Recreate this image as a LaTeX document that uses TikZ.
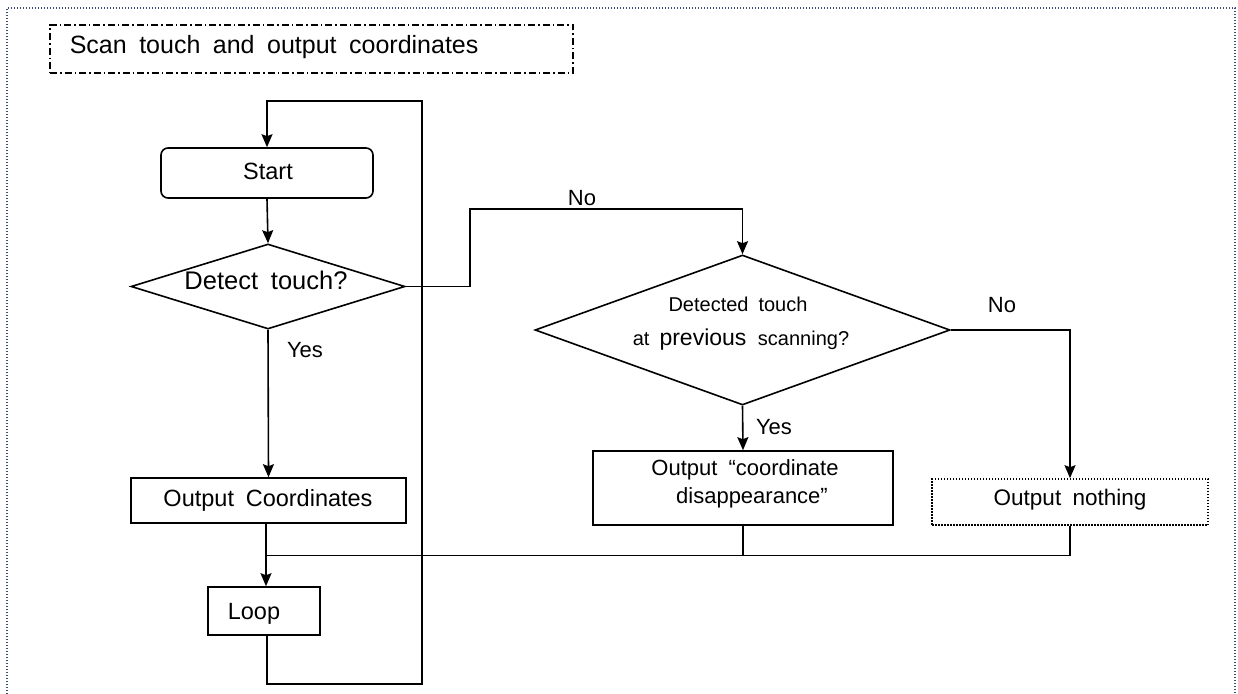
\documentclass[tikz,border=0pt]{standalone}
\usepackage{fontspec}
\setmainfont[WordSpace=1.8]{Liberation Sans}
\usetikzlibrary{arrows.meta,shapes.geometric}
\definecolor{framecol}{HTML}{3E4E78}
\begin{document}
\begin{tikzpicture}[x=1pt,y=-1pt,
  line width=1.6pt,
  arr/.style={-{Stealth[length=13pt,width=11pt,inset=2pt]}},
  box/.style={draw,rectangle,inner sep=0pt,anchor=center},
  dia/.style={draw,diamond,inner sep=0pt,anchor=center},
  txt/.style={inner sep=0pt,anchor=center},
  fs/.style={font=\fontsize{#1}{#1}\selectfont}
]
\useasboundingbox (0,0) rectangle (1238,693);
% outer dotted frame
\draw[framecol,line width=1.2pt,dash pattern=on 1.4pt off 1.6pt] (7,700) -- (7,8) -- (1235,8) -- (1235,700);
% title
\node[box,line width=1.4pt,dash pattern=on 7pt off 3pt on 1.5pt off 3pt,minimum width=523pt,minimum height=48pt] (title) at (311.5,49) {};
\node[txt,anchor=west,fs=25] (titletxt) at (69,47) {Scan touch and output coordinates};
% nodes
\node[box,rounded corners=7pt,minimum width=212pt,minimum height=50pt] (start) at (267,173) {};
\node[txt,fs=23.5] (starttxt) at (268,171) {Start};
\node[dia,minimum width=274pt,minimum height=85pt] (d1) at (268,286.5) {};
\node[txt,fs=25.5] (d1txt) at (266,280) {Detect touch?};
\node[box,minimum width=275pt,minimum height=45pt] (oc) at (268.5,500.5) {};
\node[txt,fs=23.5] (octxt) at (268,500) {Output Coordinates};
\node[box,minimum width=112pt,minimum height=48pt] (lp) at (264,611) {};
\node[txt,fs=23.5] (lptxt) at (254,614) {Loop};
\node[dia,minimum width=415pt,minimum height=150pt] (d2) at (742.5,330) {};
\node[txt,fs=20] (d2a) at (738,304) {Detected touch};
\node[txt,fs=20] (d2b) at (741,340) {at \fontsize{23}{23}\selectfont previous \fontsize{20}{20}\selectfont scanning?};
\node[box,minimum width=300pt,minimum height=74pt] (b2) at (743,488) {};
\node[txt,align=center,font=\fontsize{22}{28}\selectfont] (b2txt) at (745,484) {Output “coordinate\\\hspace*{14pt}disappearance”};
\node[box,dash pattern=on 1.5pt off 1.5pt,line width=1.6pt,minimum width=276pt,minimum height=46pt] (no) at (1070,502) {};
\node[txt,fs=22.5] (notxt) at (1070,500) {Output nothing};
% labels
\node[txt,fs=22] (no1) at (582,198) {No};
\node[txt,fs=22] (no2) at (1002,305) {No};
\node[txt,fs=22] (yes1) at (305,350) {Yes};
\node[txt,fs=22] (yes2) at (774,427) {Yes};
% coordinates
\coordinate (j1) at (470,209);
\coordinate (lb) at (422,684);
\coordinate (lt) at (422,101);
\coordinate (mg) at (266,555.5);
% connectors
\draw[arr] (lp.south -| start.north) |- (lb) -- (lt) -| (start.north);
\draw[arr] (start.south) -- (d1.north);
\draw[arr] (d1.south) -- (oc.north);
\draw[arr] (oc.south -| mg) -- (lp.north -| mg);
\draw[arr] (d1.east) -| (j1) -| (d2.north);
\draw[arr] (d2.east) -| (no.north);
\draw[arr] (d2.south) -- (b2.north);
\draw (no.south) |- (mg);
\draw (b2.south) -- (b2.south |- mg);
\end{tikzpicture}
\end{document}
